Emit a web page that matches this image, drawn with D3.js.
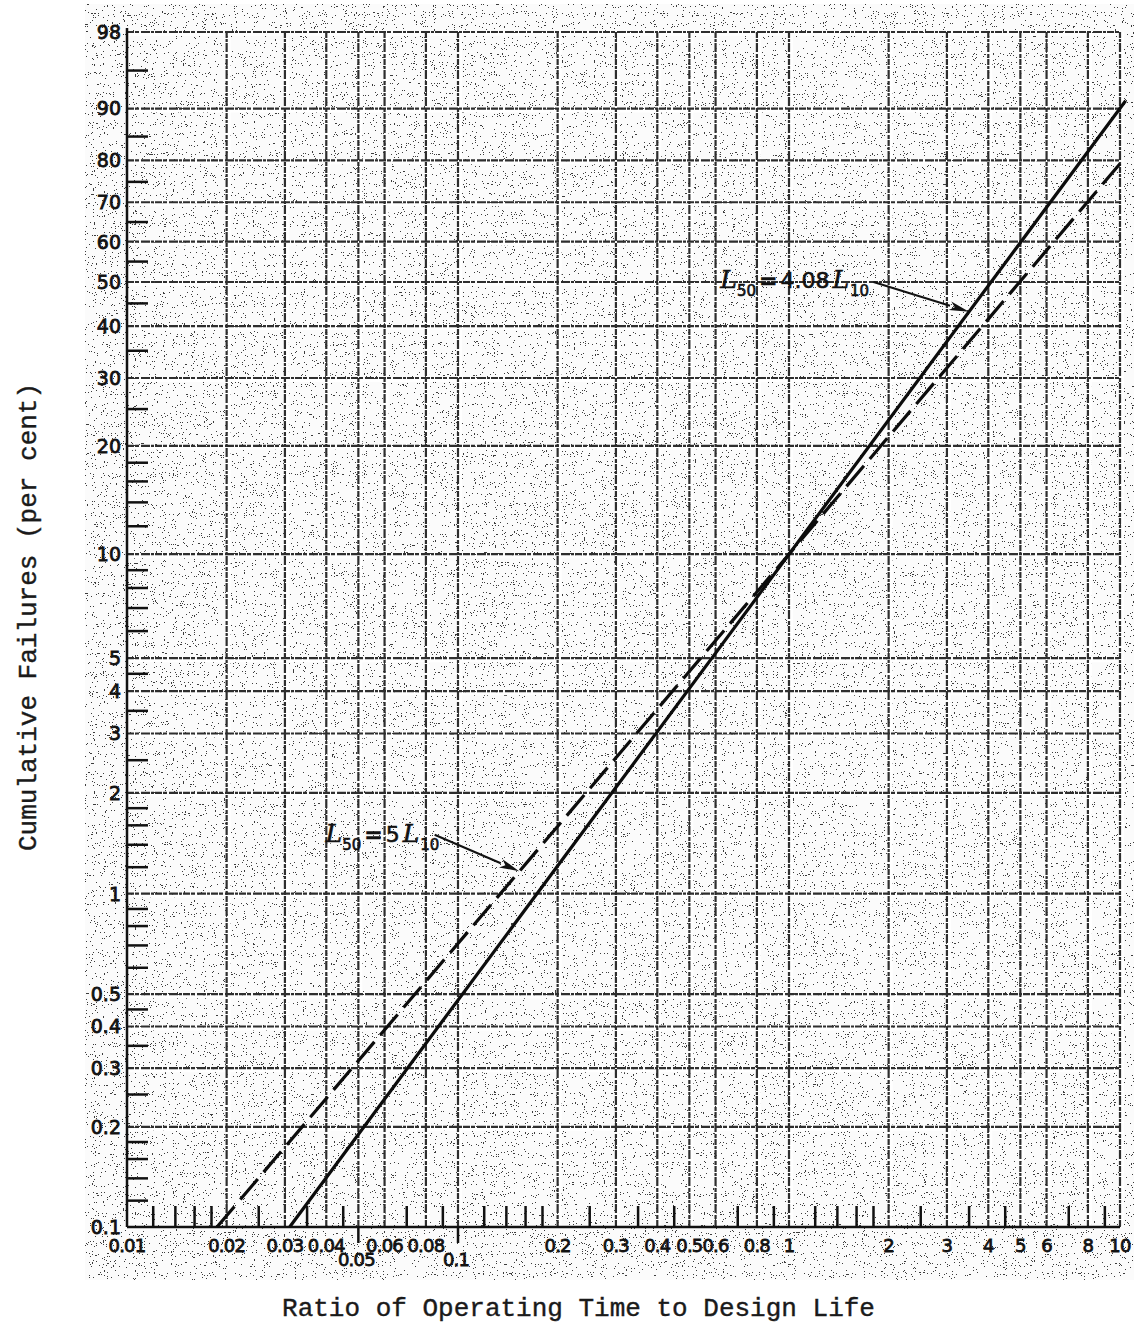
<!DOCTYPE html>
<html>
<head>
<meta charset="utf-8">
<script src="https://cdn.jsdelivr.net/npm/d3@7"></script>
<style>
  body { margin: 0; background: #fff; }
  svg { display: block; }
</style>
</head>
<body>
<div id="container"></div>
<script>
var width = 1134;
var height = 1327;

// ---- data ----
var xGrid = [0.02, 0.03, 0.04, 0.05, 0.06, 0.08, 0.1, 0.2, 0.3, 0.4, 0.5, 0.6, 0.8, 1, 2, 3, 4, 5, 6, 8, 10];
var xMinorTicks = [0.012, 0.014, 0.016, 0.018, 0.025, 0.035, 0.045, 0.07, 0.09,
                   0.12, 0.14, 0.16, 0.18, 0.25, 0.35, 0.45, 0.7, 0.9,
                   1.2, 1.4, 1.6, 1.8, 2.5, 3.5, 4.5, 7, 9];
var xLabels = ["0.01", "0.02", "0.03", "0.04", "0.06", "0.08", "0.2", "0.3", "0.4", "0.5", "0.6", "0.8",
               "1", "2", "3", "4", "5", "6", "8", "10"];
var xLowLabels = ["0.05", "0.1"];

var yGrid = [98, 90, 80, 70, 60, 50, 40, 30, 20, 10, 5, 4, 3, 2, 1, 0.5, 0.4, 0.3, 0.2];
var yMinorTicks = [95, 85, 75, 65, 55, 45, 35, 25, 18, 16, 14, 12, 9, 8, 7, 6, 4.5, 3.5, 2.5,
                   1.8, 1.6, 1.4, 1.2, 0.9, 0.8, 0.7, 0.6, 0.45, 0.35, 0.25, 0.18, 0.16, 0.14, 0.12];
var yLabels = ["98", "90", "80", "70", "60", "50", "40", "30", "20", "10", "5", "4", "3", "2", "1",
               "0.5", "0.4", "0.3", "0.2", "0.1"];

// solid line: L50 = 4.08 L10, dashed line: L50 = 5 L10
var solidRatio = [0.031, 1, 10.4];
var solidPct = [0.1, 10, 91.2];
var dashedRatio = [0.0187, 1, 10.2];
var dashedPct = [0.1, 10, 80];

// annotation anchors (ratio, per cent) and arrow tips (ratio on the line)
var note1 = { x: 0.62, y: 48.6, fromX: 1.8, fromY: 50, toX: 3.5, num: "4.08" };
var note2 = { x: 0.0398, y: 1.43, fromX: 0.085, fromY: 1.5, toX: 0.153, num: "5" };

// ---- scales ----
var x = d3.scaleLog().domain([0.01, 10]).range([127, 1120]);
// Weibull probability paper: ln(-ln(1-F))
function wb(p) { return Math.log(-Math.log(1 - p / 100)); }
var yLin = d3.scaleLinear().domain([wb(0.1), wb(98)]).range([1227, 32]);
function y(p) { return yLin(wb(p)); }

var x0 = x.range()[0], x1 = x.range()[1];
var yTop = y(98), yBot = y(0.1);

var svg = d3.select("div#container").append("svg")
    .attr("width", width)
    .attr("height", height)
    .attr("viewBox", "0 0 " + width + " " + height);

var defs = svg.append("defs");

// photocopy speckle
var f = defs.append("filter").attr("id", "speckle")
    .attr("x", 0).attr("y", 0).attr("width", 1).attr("height", 1)
    .attr("color-interpolation-filters", "sRGB");
f.append("feTurbulence").attr("type", "fractalNoise").attr("baseFrequency", 0.9)
    .attr("numOctaves", 2).attr("seed", 11);
f.append("feColorMatrix").attr("type", "matrix")
    .attr("values", "0 0 0 0 0.1  0 0 0 0 0.1  0 0 0 0 0.1  7 0 0 0 -4.45");
f.append("feComponentTransfer").append("feFuncA").attr("type", "discrete")
    .attr("tableValues", "0 0.85");

svg.append("rect").attr("x", 85).attr("y", 4).attr("width", width - 85).attr("height", 1276)
    .attr("fill", "#fbfbfb");
svg.append("rect").attr("x", 85).attr("y", 4).attr("width", width - 85).attr("height", 1276)
    .attr("filter", "url(#speckle)");

// ---- grid ----
var grid = svg.append("g").attr("class", "grid");
grid.selectAll("line.vw").data(xGrid).enter().append("line")
    .attr("x1", function(d) { return x(d) + 2.5; }).attr("x2", function(d) { return x(d) + 2.5; })
    .attr("y1", yTop).attr("y2", yBot)
    .attr("stroke", "#fff").attr("stroke-width", 3);
grid.selectAll("line.hw").data(yGrid).enter().append("line")
    .attr("y1", function(d) { return y(d) + 2.5; }).attr("y2", function(d) { return y(d) + 2.5; })
    .attr("x1", x0).attr("x2", x1)
    .attr("stroke", "#fff").attr("stroke-width", 3);
grid.selectAll("line.v").data(xGrid).enter().append("line")
    .attr("x1", function(d) { return x(d); }).attr("x2", function(d) { return x(d); })
    .attr("y1", yTop).attr("y2", yBot)
    .attr("stroke", "#2e2e2e").attr("stroke-width", 2.2)
    .attr("stroke-dasharray", "6 1 3 1 9 2 4 1");
grid.selectAll("line.h").data(yGrid).enter().append("line")
    .attr("y1", function(d) { return y(d); }).attr("y2", function(d) { return y(d); })
    .attr("x1", x0).attr("x2", x1)
    .attr("stroke", "#2e2e2e").attr("stroke-width", 2.2)
    .attr("stroke-dasharray", "7 1 4 2 9 1 3 1");

// ---- axes ----
var ax = svg.append("g").attr("stroke", "#111").attr("stroke-width", 2.5);
ax.append("line").attr("x1", x0).attr("x2", x0).attr("y1", yTop - 4).attr("y2", yBot);
ax.append("line").attr("x1", x0).attr("x2", x1).attr("y1", yBot).attr("y2", yBot);

ax.selectAll("line.yt").data(yMinorTicks).enter().append("line")
    .attr("x1", x0).attr("x2", x0 + 21)
    .attr("y1", function(d) { return y(d); }).attr("y2", function(d) { return y(d); });

ax.selectAll("line.xt").data(xMinorTicks).enter().append("line")
    .attr("y1", yBot).attr("y2", yBot - 21)
    .attr("x1", function(d) { return x(d); }).attr("x2", function(d) { return x(d); });

ax.selectAll("line.xd").data(xLowLabels).enter().append("line")
    .attr("y1", yBot).attr("y2", yBot + 16)
    .attr("x1", function(d) { return x(+d); }).attr("x2", function(d) { return x(+d); });

// tick labels
var tl = svg.append("g")
    .attr("font-family", "'DejaVu Sans', sans-serif")
    .attr("fill", "#111").attr("stroke", "#111").attr("stroke-width", 0.8);

tl.selectAll("text.y").data(yLabels).enter().append("text")
    .attr("x", x0 - 6).attr("y", function(d) { return y(+d); })
    .attr("dy", "0.36em").attr("text-anchor", "end")
    .attr("font-size", 19).text(function(d) { return d; });

tl.selectAll("text.x").data(xLabels).enter().append("text")
    .attr("x", function(d) { return x(+d); }).attr("y", yBot + 25)
    .attr("text-anchor", "middle").attr("font-size", 18)
    .attr("letter-spacing", -0.8)
    .text(function(d) { return d; });

tl.selectAll("text.xl").data(xLowLabels).enter().append("text")
    .attr("x", function(d) { return x(+d) - 2; }).attr("y", yBot + 39)
    .attr("text-anchor", "middle").attr("font-size", 18)
    .attr("letter-spacing", -0.8)
    .text(function(d) { return d; });

// ---- the two lines ----
var line = d3.line().x(function(d) { return x(d[0]); }).y(function(d) { return y(d[1]); });

svg.append("path").datum(d3.zip(solidRatio, solidPct))
    .attr("d", line).attr("fill", "none")
    .attr("stroke", "#0c0c0c").attr("stroke-width", 3.2);

svg.append("path").datum(d3.zip(dashedRatio, dashedPct))
    .attr("d", line).attr("fill", "none")
    .attr("stroke", "#0c0c0c").attr("stroke-width", 3.2)
    .attr("stroke-dasharray", "27 9");

// percent on a line at a given ratio (interpolated in Weibull space)
function onLine(rs, ps, r) {
    var s = (wb(ps[2]) - wb(ps[0])) / (Math.log(rs[2]) - Math.log(rs[0]));
    var v = wb(ps[0]) + s * (Math.log(r) - Math.log(rs[0]));
    return 100 * (1 - Math.exp(-Math.exp(v)));
}

// ---- annotations ----
function note(n, rs, ps) {
    var g = svg.append("g");
    var ax1 = x(n.fromX), ay1 = y(n.fromY);
    var ax2 = x(n.toX), ay2 = y(onLine(rs, ps, n.toX));
    var ang = Math.atan2(ay2 - ay1, ax2 - ax1);
    var hl = 20, hw = 4.5;
    var bx = ax2 - hl * Math.cos(ang), by = ay2 - hl * Math.sin(ang);
    var nx = -Math.sin(ang), ny = Math.cos(ang);
    g.append("line")
        .attr("x1", ax1).attr("y1", ay1).attr("x2", bx).attr("y2", by)
        .attr("stroke", "#111").attr("stroke-width", 2);
    g.append("path")
        .attr("d", "M" + ax2 + "," + ay2 +
            "L" + (bx + nx * hw) + "," + (by + ny * hw) +
            "L" + (bx + 5 * Math.cos(ang)) + "," + (by + 5 * Math.sin(ang)) +
            "L" + (bx - nx * hw) + "," + (by - ny * hw) + "Z")
        .attr("fill", "#111");
    var t = g.append("text").attr("x", x(n.x)).attr("y", y(n.y))
        .attr("fill", "#111").attr("stroke", "#111").attr("stroke-width", 0.6)
        .attr("font-family", "'DejaVu Sans', sans-serif").attr("font-size", 22);
    t.append("tspan").attr("font-family", "'DejaVu Serif', serif").attr("font-style", "italic")
        .attr("font-size", 25).text("L");
    t.append("tspan").attr("font-size", 15).attr("dy", 8).text("50");
    t.append("tspan").attr("dy", -8).attr("dx", 3).attr("font-weight", "bold").text("=");
    t.append("tspan").attr("dx", 3).text(n.num);
    t.append("tspan").attr("dx", 3).attr("font-family", "'DejaVu Serif', serif").attr("font-style", "italic")
        .attr("font-size", 25).text("L");
    t.append("tspan").attr("font-size", 15).attr("dy", 8).attr("dx", 1).text("10");
}
note(note1, solidRatio, solidPct);
note(note2, dashedRatio, dashedPct);

// ---- axis titles ----
svg.append("text")
    .attr("x", (x0 + x1) / 2 - 45).attr("y", 1316)
    .attr("text-anchor", "middle")
    .attr("font-family", "'Liberation Mono', 'Courier New', monospace")
    .attr("font-size", 26).attr("fill", "#1a1a1a").attr("stroke", "#1a1a1a").attr("stroke-width", 0.4)
    .text("Ratio of Operating Time to Design Life");

svg.append("text")
    .attr("transform", "translate(36," + 617 + ") rotate(-90)")
    .attr("text-anchor", "middle")
    .attr("font-family", "'Liberation Mono', 'Courier New', monospace")
    .attr("font-size", 26).attr("fill", "#1a1a1a").attr("stroke", "#1a1a1a").attr("stroke-width", 0.4)
    .text("Cumulative Failures (per cent)");
</script>
</body>
</html>
